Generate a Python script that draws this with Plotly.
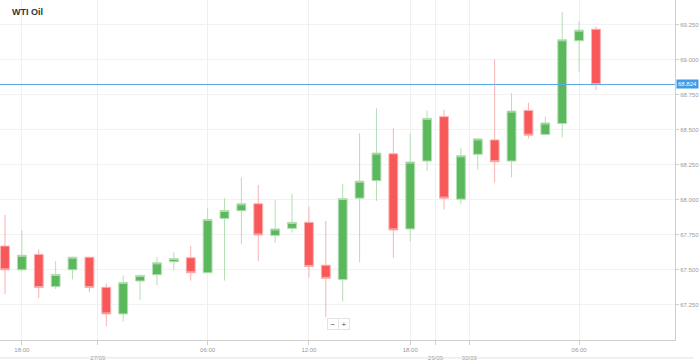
import plotly.graph_objects as go

# hourly candles, index positions on a category-like numeric axis
idx = list(range(36))
opens = [67.67, 67.50, 67.61, 67.38, 67.50, 67.59, 67.375, 67.185, 67.42, 67.465, 67.558, 67.586,
         67.479, 67.867, 67.922, 67.972, 67.746, 67.796, 67.839, 67.533, 67.43, 68.012, 68.137, 68.329,
         67.792, 68.277, 68.594, 68.005, 68.325, 68.428, 68.277, 68.639, 68.467, 68.545, 69.136, 69.219]
highs = [67.893, 67.782, 67.645, 67.562, 67.593, 67.588, 67.403, 67.46, 67.467, 67.593, 67.624, 67.671,
         67.943, 68.012, 68.161, 68.107, 68.002, 68.043, 67.952, 67.849, 68.114, 68.476, 68.653, 68.511,
         68.474, 68.637, 68.644, 68.369, 68.44, 69.004, 68.762, 68.694, 68.594, 69.342, 69.278, 69.238]
lows = [67.327, 67.489, 67.297, 67.363, 67.432, 67.34, 67.096, 67.131, 67.285, 67.391, 67.498, 67.423,
        67.479, 67.423, 67.683, 67.562, 67.692, 67.766, 67.444, 67.162, 67.273, 67.555, 67.993, 67.586,
        67.704, 68.206, 67.931, 67.967, 68.215, 68.123, 68.161, 68.438, 68.467, 68.447, 68.911, 68.783]
closes = [67.50, 67.604, 67.373, 67.467, 67.59, 67.373, 67.185, 67.41, 67.46, 67.55, 67.581, 67.479,
          67.86, 67.924, 67.972, 67.749, 67.792, 67.839, 67.524, 67.439, 68.009, 68.133, 68.334, 67.785,
          68.27, 68.582, 68.012, 68.315, 68.435, 68.272, 68.634, 68.462, 68.549, 69.143, 69.212, 68.824]

last_price = 68.824
tick_pos = [1, 5.5, 12, 18, 24, 25.5, 27.5, 34]
tick_text = ["18:00", "<br>27/09", "06:00", "12:00", "18:00", "<br>29/09", "<br>30/09", "06:00"]
y_ticks = [67.25, 67.5, 67.75, 68.0, 68.25, 68.5, 68.75, 69.0, 69.25]
y_tick_text = ["67.250", "67.500", "67.750", "68.000", "68.250", "68.500", "68.750", "69.000", "69.250"]

fig = go.Figure()
fig.add_trace(go.Candlestick(
    x=idx, open=opens, high=highs, low=lows, close=closes,
    increasing=dict(fillcolor="#5cb85c", line=dict(color="#b5dfb5", width=1)),
    decreasing=dict(fillcolor="#f95858", line=dict(color="#fbb0b0", width=1)),
    whiskerwidth=0, showlegend=False, hoverinfo="skip",
))

fig.add_shape(type="line", xref="paper", x0=0, x1=1, yref="y", y0=last_price, y1=last_price,
              line=dict(color="#5aa9e6", width=1))
fig.add_shape(type="line", xref="paper", x0=0, x1=1.028, yref="paper", y0=-0.0526, y1=-0.0526,
              line=dict(color="#e2e2e2", width=1))

fig.add_annotation(xref="paper", x=1, xanchor="left", xshift=1, yref="y", y=last_price,
                   text="68.824", showarrow=False, bgcolor="#3d9be9",
                   font=dict(color="white", size=6, family="Arial, Liberation Sans"),
                   borderpad=1)
fig.add_annotation(xref="paper", x=0.0147, xanchor="left", yref="paper", y=1 - 12 / 342,
                   yanchor="middle", text="<b>WTI Oil</b>", showarrow=False,
                   font=dict(color="#333", size=9, family="Arial, Liberation Sans"))
for txt, px in [("−", 334), ("+", 346)]:
    fig.add_annotation(xref="paper", x=px / 678, yref="paper", y=1 - 332 / 342,
                       text=txt, showarrow=False, bgcolor="white", bordercolor="#e4e4e4",
                       borderwidth=1, borderpad=1, width=8, height=8,
                       font=dict(color="#555", size=8, family="Arial, Liberation Sans"))

fig.update_layout(
    width=699, height=361,
    margin=dict(l=0, r=21, t=0, b=19),
    paper_bgcolor="white", plot_bgcolor="white",
    boxgap=0.25,
    xaxis=dict(range=[-0.295, 39.68], tickmode="array", tickvals=tick_pos, ticktext=tick_text,
               showgrid=True, gridcolor="#efefef", gridwidth=1, zeroline=False,
               showline=True, linecolor="#cfcfcf", ticks="outside", ticklen=4, tickcolor="#cfcfcf",
               tickfont=dict(size=6, color="#999", family="Arial, Liberation Sans"),
               rangeslider=dict(visible=False), fixedrange=True),
    yaxis=dict(range=[66.9986, 69.4276], side="right", tickmode="array", tickvals=y_ticks,
               ticktext=y_tick_text, showgrid=True, gridcolor="#f2f2f2", zeroline=False,
               showline=True, linecolor="#cfcfcf", ticks="outside", ticklen=3, tickcolor="#cfcfcf",
               tickfont=dict(size=6, color="#999", family="Arial, Liberation Sans")),
)

fig.write_html("out.html")
